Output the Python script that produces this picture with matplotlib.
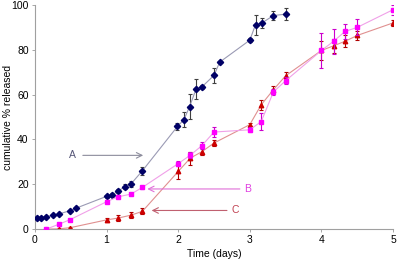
import matplotlib.pyplot as plt

plt.rcParams['font.family'] = ['Liberation Sans', 'DejaVu Sans']

# series A (blue diamonds)
a_t = [0.03, 0.08, 0.16, 0.25, 0.33, 0.49, 0.58, 1.0, 1.08, 1.16, 1.26, 1.34, 1.5,
       1.99, 2.08, 2.16, 2.25, 2.33, 2.5, 2.58, 3.0, 3.08, 3.17, 3.33, 3.5]
a_y = [4.9, 5.0, 5.6, 6.1, 6.7, 8.2, 9.4, 14.6, 15.2, 17.0, 18.9, 20.1, 26.0,
       45.8, 48.8, 54.7, 62.5, 63.4, 68.6, 74.5, 84.3, 91.2, 92.0, 95.3, 95.9]
a_err = [0.4, 0.4, 0.4, 0.4, 0.5, 0.5, 0.5, 0.8, 0.8, 1.0, 1.2, 1.5, 1.9,
         1.5, 3.3, 5.8, 4.3, 0.8, 3.5, 0.5, 0.8, 4.5, 2.2, 1.9, 2.8]

# series B (magenta squares)
b_t = [0.16, 0.33, 0.49, 1.0, 1.16, 1.34, 1.5, 2.0, 2.17, 2.33, 2.5, 3.0, 3.16,
       3.33, 3.5, 4.0, 4.17, 4.33, 4.5, 5.0]
b_y = [0.0, 2.1, 4.2, 12.2, 14.4, 15.6, 18.6, 29.2, 33.0, 37.2, 43.3, 44.3, 48.0,
       61.2, 66.2, 79.7, 83.8, 88.2, 90.0, 97.9]
b_err = [0.3, 0.4, 0.4, 0.5, 0.5, 0.5, 0.6, 1.0, 1.4, 1.5, 2.2, 1.2, 3.7,
         1.5, 1.5, 7.7, 5.6, 3.2, 3.6, 2.2]

# series C (red triangles)
c_t = [0.16, 0.33, 0.49, 1.0, 1.16, 1.34, 1.5, 2.0, 2.17, 2.33, 2.5, 3.0, 3.16,
       3.33, 3.5, 4.0, 4.17, 4.33, 4.5, 5.0]
c_y = [0.0, 0.1, 0.6, 4.1, 4.9, 6.2, 7.9, 25.7, 31.7, 34.5, 38.4, 46.6, 55.5,
       62.2, 68.4, 79.7, 81.8, 83.8, 86.4, 92.0]
c_err = [0.2, 0.2, 0.3, 0.7, 1.2, 1.4, 1.3, 3.5, 2.9, 1.6, 1.5, 0.8, 2.2,
         1.5, 1.5, 4.1, 3.1, 2.6, 2.2, 1.5]

fig = plt.figure(figsize=(3.97, 2.63), dpi=100)
ax = fig.add_axes([0.088, 0.129, 0.902, 0.852])

ax.errorbar(a_t, a_y, yerr=a_err, color='#9a9ab4', lw=0.8, marker='D', ms=3.2,
            mfc='#000066', mec='#000066', ecolor='#404040', elinewidth=0.8,
            capsize=1.5, capthick=0.8, zorder=3)
ax.errorbar(b_t, b_y, yerr=b_err, color='#f0a0e8', lw=0.8, marker='s', ms=3.4,
            mfc='#ff00ff', mec='#ff00ff', ecolor='#cc00cc', elinewidth=0.8,
            capsize=1.5, capthick=0.8, zorder=3)
ax.errorbar(c_t, c_y, yerr=c_err, color='#e09090', lw=0.8, marker='^', ms=3.2,
            mfc='#cc0000', mec='#cc0000', ecolor='#b00000', elinewidth=0.8,
            capsize=1.5, capthick=0.8, zorder=2)

# labelled arrows
ax.annotate('', xy=(1.55, 32.9), xytext=(0.63, 32.9),
            arrowprops=dict(arrowstyle='->', color='#8c8c9c', lw=0.8))
ax.text(0.53, 32.9, 'A', color='#555577', fontsize=7.5, ha='center', va='center')
ax.annotate('', xy=(1.53, 17.9), xytext=(2.9, 17.9),
            arrowprops=dict(arrowstyle='->', color='#e070d8', lw=0.8))
ax.text(2.97, 17.9, 'B', color='#e040e0', fontsize=7.5, ha='center', va='center')
ax.annotate('', xy=(1.59, 8.3), xytext=(2.72, 8.3),
            arrowprops=dict(arrowstyle='->', color='#c06070', lw=0.8))
ax.text(2.79, 8.3, 'C', color='#c04050', fontsize=7.5, ha='center', va='center')

ax.set_xlim(0, 5)
ax.set_ylim(0, 100)
ax.set_xticks([0, 1, 2, 3, 4, 5])
ax.set_yticks([0, 20, 40, 60, 80, 100])
ax.set_xlabel('Time (days)', fontsize=7.5, labelpad=3)
ax.set_ylabel('cumulative % released', fontsize=7.5)
ax.yaxis.set_label_coords(-0.06, 0.5)
ax.tick_params(labelsize=7.5, length=2.5, width=0.6, color='#999999', pad=2)

for side in ['top', 'right']:
    ax.spines[side].set_visible(False)
for side in ['left', 'bottom']:
    ax.spines[side].set_color('#a0a0a0')
    ax.spines[side].set_linewidth(0.8)

fig.savefig('out.png', dpi=100)
